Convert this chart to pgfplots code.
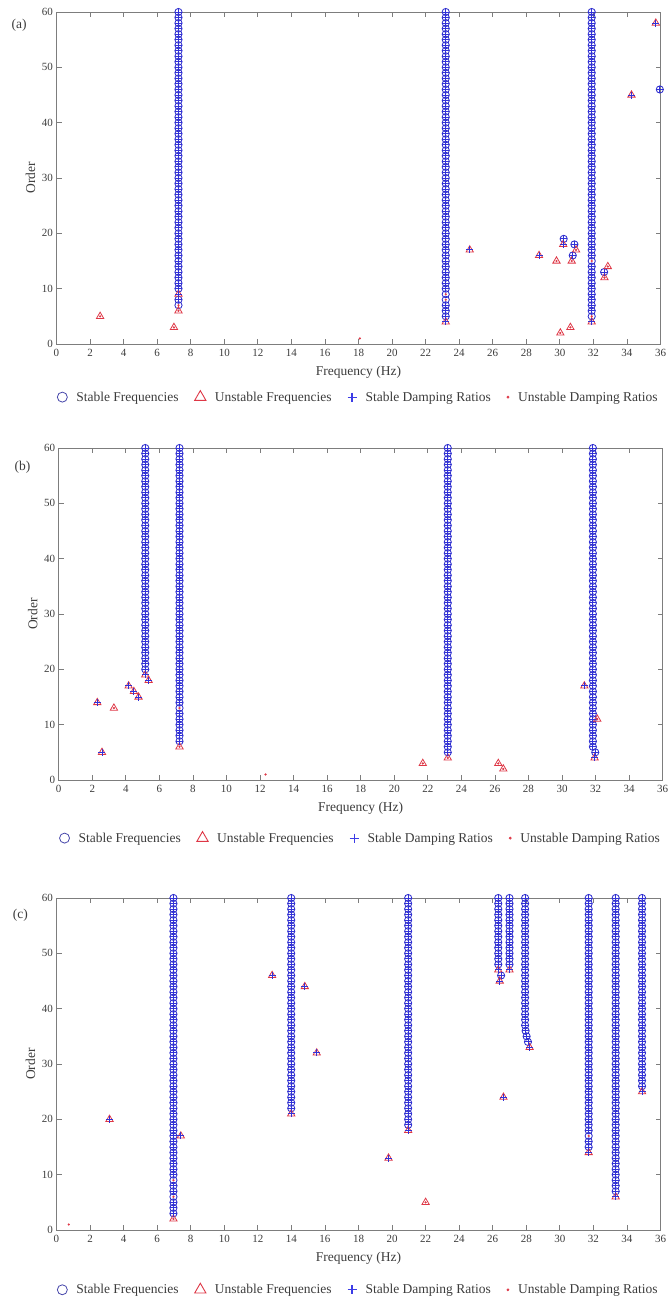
\documentclass[border=0pt]{standalone}
\usepackage{pgfplots}
\pgfplotsset{compat=1.18}
\usepackage{pgfplotstable}
\usepackage{fontspec}
\setmainfont{Liberation Serif}
\definecolor{sblue}{RGB}{45,45,205}
\definecolor{pblue}{RGB}{50,50,215}
\definecolor{lpblue}{RGB}{60,60,230}
\definecolor{ured}{RGB}{222,55,70}
\definecolor{legblue}{RGB}{70,70,170}
\definecolor{axgray}{RGB}{125,125,125}
\definecolor{txgray}{RGB}{60,60,60}
\pgfplotsset{
  stab/.style={
    width=604pt, height=332pt, scale only axis,
    xmin=0, xmax=36, ymin=0, ymax=60,
    xtick={0,2,...,36}, ytick={0,10,...,60},
    tick align=inside, major tick length=5pt,
    axis line style={draw=axgray, line width=0.8pt},
    every tick/.style={axgray, line width=0.7pt},
    tick label style={font=\fontsize{11}{12}\selectfont, text=txgray},
    xticklabel style={yshift=-2pt},
    /pgf/number format/assume math mode=true,
    xlabel={Frequency (Hz)}, ylabel={Order},
    label style={font=\fontsize{13.5}{15}\selectfont, text=txgray},
    xlabel style={at={(axis description cs:0.5,-0.0843)}, anchor=center},
    ylabel style={at={(axis description cs:-0.043,0.5)}, anchor=center},
    clip=false,
    legend columns=4,
    legend style={draw=none, fill=none, font=\fontsize{13.5}{15}\selectfont, text=txgray, anchor=center,
      /tikz/every odd column/.append style={column sep=7pt},
      /tikz/every even column/.append style={column sep=14pt}},
  },
  pS/.style={only marks, mark=o, mark size=3.6pt, mark options={draw=sblue, line width=0.85pt}, forget plot},
  pU/.style={only marks, mark=triangle, mark size=4.2pt, mark options={draw=ured, line width=0.8pt}, forget plot},
  pP/.style={only marks, mark=+, mark size=3.5pt, mark options={draw=pblue, line width=0.9pt}, forget plot},
  pD/.style={only marks, mark=*, mark size=0.9pt, mark options={draw=ured, fill=ured}, forget plot},
}
\newcommand{\stablegend}{%
  \addlegendimage{only marks, mark=o, mark size=5pt, mark options={draw=legblue, line width=0.8pt}}
  \addlegendentry{Stable Frequencies}
  \addlegendimage{only marks, mark=triangle, mark size=6.5pt, mark options={draw=ured, line width=0.9pt}}
  \addlegendentry{Unstable Frequencies}
  \addlegendimage{only marks, mark=+, mark size=4.5pt, mark options={draw=lpblue, line width=1.1pt}}
  \addlegendentry{Stable Damping Ratios}
  \addlegendimage{only marks, mark=*, mark size=1.2pt, mark options={draw=ured, fill=ured}}
  \addlegendentry{Unstable Damping Ratios}
}
\begin{document}
% ---------------- panel (a) ----------------
\pgfplotstableread[row sep=\\]{x y\\
7.27 8\\7.27 10\\7.27 11\\7.27 12\\7.27 13\\7.27 14\\7.27 15\\7.27 16\\7.27 17\\7.27 18\\7.27 19\\7.27 20\\7.27 21\\7.27 22\\7.27 23\\7.27 24\\7.27 25\\7.27 26\\7.27 27\\7.27 28\\7.27 29\\7.27 30\\7.27 31\\7.27 32\\7.27 33\\7.27 34\\7.27 35\\7.27 36\\7.27 37\\7.27 38\\7.27 39\\7.27 40\\7.27 41\\7.27 42\\7.27 43\\7.27 44\\7.27 45\\7.27 46\\7.27 47\\7.27 48\\7.27 49\\7.27 50\\7.27 51\\7.27 52\\7.27 53\\7.27 54\\7.27 55\\7.27 56\\7.27 57\\7.27 58\\7.27 59\\7.27 60\\
23.2 5\\23.2 6\\23.2 7\\23.2 10\\23.2 11\\23.2 12\\23.2 13\\23.2 14\\23.2 15\\23.2 16\\23.2 17\\23.2 18\\23.2 19\\23.2 20\\23.2 21\\23.2 22\\23.2 23\\23.2 24\\23.2 25\\23.2 26\\23.2 27\\23.2 28\\23.2 29\\23.2 30\\23.2 31\\23.2 32\\23.2 33\\23.2 34\\23.2 35\\23.2 36\\23.2 37\\23.2 38\\23.2 39\\23.2 40\\23.2 41\\23.2 42\\23.2 43\\23.2 44\\23.2 45\\23.2 46\\23.2 47\\23.2 48\\23.2 49\\23.2 50\\23.2 51\\23.2 52\\23.2 53\\23.2 54\\23.2 55\\23.2 56\\23.2 57\\23.2 58\\23.2 59\\23.2 60\\
31.9 6\\31.9 7\\31.9 8\\31.9 9\\31.9 10\\31.9 11\\31.9 12\\31.9 13\\31.9 14\\31.9 16\\31.9 17\\31.9 18\\31.9 19\\31.9 20\\31.9 21\\31.9 22\\31.9 23\\31.9 24\\31.9 25\\31.9 26\\31.9 27\\31.9 28\\31.9 29\\31.9 30\\31.9 31\\31.9 32\\31.9 33\\31.9 34\\31.9 35\\31.9 36\\31.9 37\\31.9 38\\31.9 39\\31.9 40\\31.9 41\\31.9 42\\31.9 43\\31.9 44\\31.9 45\\31.9 46\\31.9 47\\31.9 48\\31.9 49\\31.9 50\\31.9 51\\31.9 52\\31.9 53\\31.9 54\\31.9 55\\31.9 56\\31.9 57\\31.9 58\\31.9 59\\31.9 60\\
30.23 19\\30.87 18\\30.77 16\\32.64 13\\35.96 46\\
}\aSS
\pgfplotstableread[row sep=\\]{x y\\7.27 7\\23.2 8\\23.2 9\\31.9 5\\31.9 15\\}\aSU
\pgfplotstableread[row sep=\\]{x y\\7.27 9\\23.2 4\\31.9 4\\24.63 17\\28.76 16\\30.2 18\\34.27 45\\35.72 58\\}\aUS
\pgfplotstableread[row sep=\\]{x y\\7.27 6\\2.6 5\\7.0 3\\29.8 15\\30.03 2\\30.63 3\\30.97 17\\30.71 15\\32.66 12\\32.86 14\\}\aUU
\pgfplotstableread[row sep=\\]{x y\\18.08 1\\}\aUD
% ---------------- panel (b) ----------------
\pgfplotstableread[row sep=\\]{x y\\
5.16 20\\5.16 21\\5.16 22\\5.16 23\\5.16 24\\5.16 25\\5.16 26\\5.16 27\\5.16 28\\5.16 29\\5.16 30\\5.16 31\\5.16 32\\5.16 33\\5.16 34\\5.16 35\\5.16 36\\5.16 37\\5.16 38\\5.16 39\\5.16 40\\5.16 41\\5.16 42\\5.16 43\\5.16 44\\5.16 45\\5.16 46\\5.16 47\\5.16 48\\5.16 49\\5.16 50\\5.16 51\\5.16 52\\5.16 53\\5.16 54\\5.16 55\\5.16 56\\5.16 57\\5.16 58\\5.16 59\\5.16 60\\
7.2 7\\7.2 8\\7.2 9\\7.2 10\\7.2 11\\7.2 12\\7.2 14\\7.2 15\\7.2 16\\7.2 17\\7.2 18\\7.2 19\\7.2 20\\7.2 21\\7.2 22\\7.2 23\\7.2 24\\7.2 25\\7.2 26\\7.2 27\\7.2 28\\7.2 29\\7.2 30\\7.2 31\\7.2 32\\7.2 33\\7.2 34\\7.2 35\\7.2 36\\7.2 37\\7.2 38\\7.2 39\\7.2 40\\7.2 41\\7.2 42\\7.2 43\\7.2 44\\7.2 45\\7.2 46\\7.2 47\\7.2 48\\7.2 49\\7.2 50\\7.2 51\\7.2 52\\7.2 53\\7.2 54\\7.2 55\\7.2 56\\7.2 57\\7.2 58\\7.2 59\\7.2 60\\
23.19 5\\23.19 6\\23.19 7\\23.19 8\\23.19 9\\23.19 10\\23.19 11\\23.19 12\\23.19 13\\23.19 14\\23.19 15\\23.19 16\\23.19 17\\23.19 18\\23.19 19\\23.19 20\\23.19 21\\23.19 22\\23.19 23\\23.19 24\\23.19 25\\23.19 26\\23.19 27\\23.19 28\\23.19 29\\23.19 30\\23.19 31\\23.19 32\\23.19 33\\23.19 34\\23.19 35\\23.19 36\\23.19 37\\23.19 38\\23.19 39\\23.19 40\\23.19 41\\23.19 42\\23.19 43\\23.19 44\\23.19 45\\23.19 46\\23.19 47\\23.19 48\\23.19 49\\23.19 50\\23.19 51\\23.19 52\\23.19 53\\23.19 54\\23.19 55\\23.19 56\\23.19 57\\23.19 58\\23.19 59\\23.19 60\\
31.84 6\\31.84 7\\31.84 8\\31.84 9\\31.84 10\\31.84 11\\31.84 12\\31.84 13\\31.84 14\\31.84 15\\31.84 16\\31.84 17\\31.84 18\\31.84 19\\31.84 20\\31.84 21\\31.84 22\\31.84 23\\31.84 24\\31.84 25\\31.84 26\\31.84 27\\31.84 28\\31.84 29\\31.84 30\\31.84 31\\31.84 32\\31.84 33\\31.84 34\\31.84 35\\31.84 36\\31.84 37\\31.84 38\\31.84 39\\31.84 40\\31.84 41\\31.84 42\\31.84 43\\31.84 44\\31.84 45\\31.84 46\\31.84 47\\31.84 48\\31.84 49\\31.84 50\\31.84 51\\31.84 52\\31.84 53\\31.84 54\\31.84 55\\31.84 56\\31.84 57\\31.84 58\\31.84 59\\31.84 60\\
31.98 5\\
}\bSS
\pgfplotstableread[row sep=\\]{x y\\7.2 13\\}\bSU
\pgfplotstableread[row sep=\\]{x y\\5.16 19\\31.94 4\\2.3 14\\2.58 5\\4.17 17\\4.48 16\\4.76 15\\5.36 18\\31.33 17\\}\bUS
\pgfplotstableread[row sep=\\]{x y\\7.2 6\\23.19 4\\3.29 13\\21.7 3\\26.2 3\\26.5 2\\32.1 11\\}\bUU
\pgfplotstableread[row sep=\\]{x y\\12.33 1\\}\bUD
% ---------------- panel (c) ----------------
\pgfplotstableread[row sep=\\]{x y\\
6.97 3\\6.97 4\\6.97 5\\6.97 7\\6.97 8\\6.97 10\\6.97 11\\6.97 12\\6.97 13\\6.97 14\\6.97 15\\6.97 16\\6.97 17\\6.97 18\\6.97 19\\6.97 20\\6.97 21\\6.97 22\\6.97 23\\6.97 24\\6.97 25\\6.97 26\\6.97 27\\6.97 28\\6.97 29\\6.97 30\\6.97 31\\6.97 32\\6.97 33\\6.97 34\\6.97 35\\6.97 36\\6.97 37\\6.97 38\\6.97 39\\6.97 40\\6.97 41\\6.97 42\\6.97 43\\6.97 44\\6.97 45\\6.97 46\\6.97 47\\6.97 48\\6.97 49\\6.97 50\\6.97 51\\6.97 52\\6.97 53\\6.97 54\\6.97 55\\6.97 56\\6.97 57\\6.97 58\\6.97 59\\6.97 60\\
13.99 22\\13.99 23\\13.99 24\\13.99 25\\13.99 26\\13.99 27\\13.99 28\\13.99 29\\13.99 30\\13.99 31\\13.99 32\\13.99 33\\13.99 34\\13.99 35\\13.99 36\\13.99 37\\13.99 38\\13.99 39\\13.99 40\\13.99 41\\13.99 42\\13.99 43\\13.99 44\\13.99 45\\13.99 46\\13.99 47\\13.99 48\\13.99 49\\13.99 50\\13.99 51\\13.99 52\\13.99 53\\13.99 54\\13.99 55\\13.99 56\\13.99 57\\13.99 58\\13.99 59\\13.99 60\\
20.96 19\\20.96 20\\20.96 21\\20.96 22\\20.96 23\\20.96 24\\20.96 25\\20.96 26\\20.96 27\\20.96 28\\20.96 29\\20.96 30\\20.96 31\\20.96 32\\20.96 33\\20.96 34\\20.96 35\\20.96 36\\20.96 37\\20.96 38\\20.96 39\\20.96 40\\20.96 41\\20.96 42\\20.96 43\\20.96 44\\20.96 45\\20.96 46\\20.96 47\\20.96 48\\20.96 49\\20.96 50\\20.96 51\\20.96 52\\20.96 53\\20.96 54\\20.96 55\\20.96 56\\20.96 57\\20.96 58\\20.96 59\\20.96 60\\
26.33 48\\26.33 49\\26.33 50\\26.33 51\\26.33 52\\26.33 53\\26.33 54\\26.33 55\\26.33 56\\26.33 57\\26.33 58\\26.33 59\\26.33 60\\26.5 46\\
27.0 48\\27.0 49\\27.0 50\\27.0 51\\27.0 52\\27.0 53\\27.0 54\\27.0 55\\27.0 56\\27.0 57\\27.0 58\\27.0 59\\27.0 60\\
27.93 37\\27.93 38\\27.93 39\\27.93 40\\27.93 41\\27.93 42\\27.93 43\\27.93 44\\27.93 45\\27.93 46\\27.93 47\\27.93 48\\27.93 49\\27.93 50\\27.93 51\\27.93 52\\27.93 53\\27.93 54\\27.93 55\\27.93 56\\27.93 57\\27.93 58\\27.93 59\\27.93 60\\27.96 36\\28.02 35\\28.1 34\\
31.72 15\\31.72 16\\31.72 18\\31.72 19\\31.72 20\\31.72 21\\31.72 22\\31.72 23\\31.72 24\\31.72 25\\31.72 26\\31.72 27\\31.72 28\\31.72 29\\31.72 30\\31.72 31\\31.72 32\\31.72 33\\31.72 34\\31.72 35\\31.72 36\\31.72 37\\31.72 38\\31.72 39\\31.72 40\\31.72 41\\31.72 42\\31.72 43\\31.72 44\\31.72 45\\31.72 46\\31.72 47\\31.72 48\\31.72 49\\31.72 50\\31.72 51\\31.72 52\\31.72 53\\31.72 54\\31.72 55\\31.72 56\\31.72 57\\31.72 58\\31.72 59\\31.72 60\\
33.33 7\\33.33 8\\33.33 9\\33.33 10\\33.33 11\\33.33 12\\33.33 13\\33.33 14\\33.33 15\\33.33 16\\33.33 17\\33.33 18\\33.33 19\\33.33 20\\33.33 21\\33.33 22\\33.33 23\\33.33 24\\33.33 25\\33.33 26\\33.33 27\\33.33 28\\33.33 29\\33.33 30\\33.33 31\\33.33 32\\33.33 33\\33.33 34\\33.33 35\\33.33 36\\33.33 37\\33.33 38\\33.33 39\\33.33 40\\33.33 41\\33.33 42\\33.33 43\\33.33 44\\33.33 45\\33.33 46\\33.33 47\\33.33 48\\33.33 49\\33.33 50\\33.33 51\\33.33 52\\33.33 53\\33.33 54\\33.33 55\\33.33 56\\33.33 57\\33.33 58\\33.33 59\\33.33 60\\
34.9 26\\34.9 27\\34.9 28\\34.9 29\\34.9 30\\34.9 31\\34.9 32\\34.9 33\\34.9 34\\34.9 35\\34.9 36\\34.9 37\\34.9 38\\34.9 39\\34.9 40\\34.9 41\\34.9 42\\34.9 43\\34.9 44\\34.9 45\\34.9 46\\34.9 47\\34.9 48\\34.9 49\\34.9 50\\34.9 51\\34.9 52\\34.9 53\\34.9 54\\34.9 55\\34.9 56\\34.9 57\\34.9 58\\34.9 59\\34.9 60\\
}\cSS
\pgfplotstableread[row sep=\\]{x y\\6.97 6\\6.97 9\\31.72 17\\}\cSU
\pgfplotstableread[row sep=\\]{x y\\13.99 21\\20.96 18\\26.33 47\\26.42 45\\27.0 47\\28.2 33\\31.72 14\\33.33 6\\34.9 25\\3.16 20\\7.41 17\\12.85 46\\14.8 44\\15.51 32\\19.79 13\\26.64 24\\}\cUS
\pgfplotstableread[row sep=\\]{x y\\6.97 2\\22.0 5\\}\cUU
\pgfplotstableread[row sep=\\]{x y\\0.73 1\\}\cUD
\begin{tikzpicture}
\useasboundingbox (0,0) rectangle (670pt,-1301pt);
% (a)
\begin{axis}[stab, at={(56.5pt,-344pt)}, anchor=south west, legend style={at={(0.5,-0.16)}}]
\stablegend
\addplot[pS] table {\aSS};
\addplot[pS] table {\aSU};
\addplot[pU] table {\aUS};
\addplot[pU] table {\aUU};
\addplot[pP] table {\aSS};
\addplot[pP] table {\aUS};
\addplot[pD] table {\aSU};
\addplot[pD] table {\aUU};
\addplot[pD] table {\aUD};
\node[font=\fontsize{13.5}{15}\selectfont, text=txgray] at (rel axis cs:-0.062,0.961) {(a)};
\end{axis}
% (b)
\begin{axis}[stab, at={(58.7pt,-780pt)}, anchor=south west, legend style={at={(0.5,-0.175)}}]
\stablegend
\addplot[pS] table {\bSS};
\addplot[pS] table {\bSU};
\addplot[pU] table {\bUS};
\addplot[pU] table {\bUU};
\addplot[pP] table {\bSS};
\addplot[pP] table {\bUS};
\addplot[pD] table {\bSU};
\addplot[pD] table {\bUU};
\addplot[pD] table {\bUD};
\node[font=\fontsize{13.5}{15}\selectfont, text=txgray] at (rel axis cs:-0.06,0.943) {(b)};
\end{axis}
% (c)
\begin{axis}[stab, at={(56.5pt,-1230pt)}, anchor=south west, legend style={at={(0.5,-0.18)}}]
\stablegend
\addplot[pS] table {\cSS};
\addplot[pS] table {\cSU};
\addplot[pU] table {\cUS};
\addplot[pU] table {\cUU};
\addplot[pP] table {\cSS};
\addplot[pP] table {\cUS};
\addplot[pD] table {\cSU};
\addplot[pD] table {\cUU};
\addplot[pD] table {\cUD};
\node[font=\fontsize{13.5}{15}\selectfont, text=txgray] at (rel axis cs:-0.06,0.949) {(c)};
\end{axis}
\end{tikzpicture}
\end{document}
